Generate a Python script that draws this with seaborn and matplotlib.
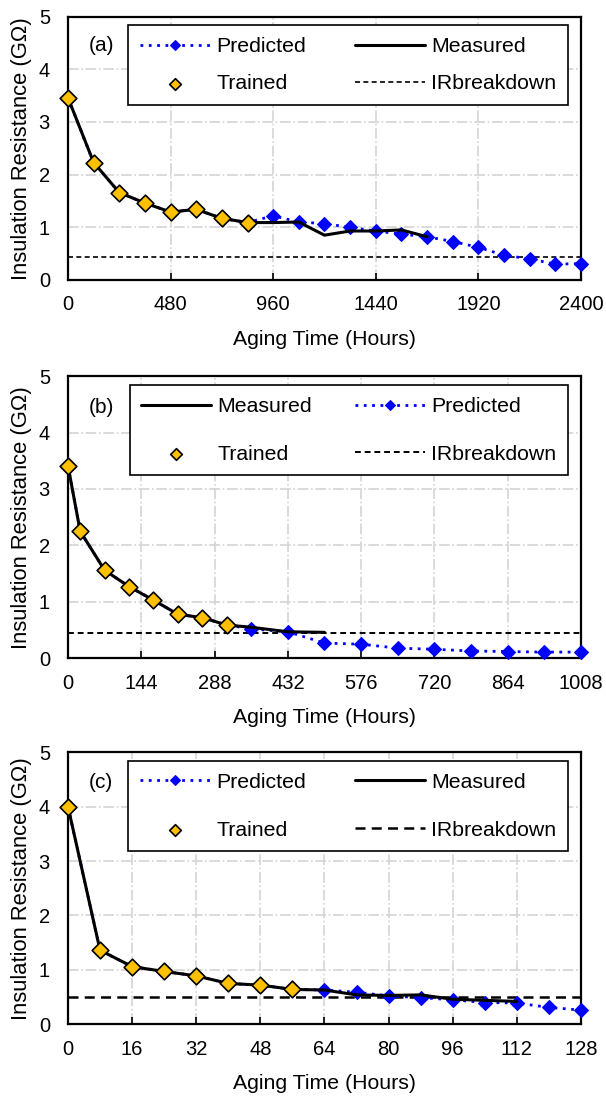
import matplotlib
matplotlib.use("Agg")
import matplotlib.pyplot as plt
import seaborn as sns

sns.set_style("white")
plt.rcParams['font.family'] = ['Liberation Sans', 'DejaVu Sans']
plt.rcParams['font.size'] = 14.5
plt.rcParams['text.color'] = 'black'
plt.rcParams['axes.labelcolor'] = 'black'
plt.rcParams['xtick.color'] = 'black'
plt.rcParams['ytick.color'] = 'black'

# ---- panel (a) ----
hours_a = [0, 120, 240, 360, 480, 600, 720, 840, 960, 1080, 1200, 1320,
           1440, 1560, 1680, 1800, 1920, 2040, 2160, 2280, 2400]
pred_a = [3.46, 2.23, 1.66, 1.46, 1.29, 1.34, 1.17, 1.09, 1.22, 1.10, 1.07,
          1.00, 0.93, 0.87, 0.82, 0.73, 0.62, 0.47, 0.40, 0.30, 0.31]
meas_hours_a = [0, 120, 240, 360, 480, 600, 720, 840, 960, 1080, 1200, 1320,
                1440, 1560, 1680]
meas_a = [3.46, 2.23, 1.66, 1.46, 1.29, 1.34, 1.17, 1.09, 1.09, 1.10, 0.85,
          0.93, 0.93, 0.95, 0.82]
train_hours_a = [0, 120, 240, 360, 480, 600, 720, 840]
train_a = [3.46, 2.23, 1.66, 1.46, 1.29, 1.34, 1.17, 1.09]
ir_a = 0.44
ticks_a = [0, 480, 960, 1440, 1920, 2400]

# ---- panel (b) ----
hours_b = [0, 24, 72, 120, 168, 216, 264, 312, 360, 432, 504, 576, 648,
           720, 792, 864, 936, 1008]
pred_b = [3.41, 2.25, 1.56, 1.27, 1.03, 0.78, 0.72, 0.59, 0.52, 0.47, 0.27,
          0.25, 0.18, 0.16, 0.13, 0.12, 0.11, 0.11]
meas_hours_b = [0, 24, 72, 120, 168, 216, 264, 312, 360, 432, 504]
meas_b = [3.41, 2.25, 1.56, 1.27, 1.03, 0.78, 0.72, 0.59, 0.55, 0.47, 0.46]
train_hours_b = [0, 24, 72, 120, 168, 216, 264, 312]
train_b = [3.41, 2.25, 1.56, 1.27, 1.03, 0.78, 0.72, 0.59]
ir_b = 0.44
ticks_b = [0, 144, 288, 432, 576, 720, 864, 1008]

# ---- panel (c) ----
hours_c = [0, 8, 16, 24, 32, 40, 48, 56, 64, 72, 80, 88, 96, 104, 112,
           120, 128]
pred_c = [4.00, 1.36, 1.06, 0.97, 0.89, 0.75, 0.72, 0.64, 0.63, 0.59, 0.52,
          0.49, 0.45, 0.40, 0.39, 0.31, 0.26]
meas_hours_c = [0, 8, 16, 24, 32, 40, 48, 56, 64, 72, 80, 88, 96, 104, 112]
meas_c = [4.00, 1.36, 1.06, 0.97, 0.89, 0.75, 0.72, 0.64, 0.63, 0.54, 0.53,
          0.54, 0.46, 0.44, 0.42]
train_hours_c = [0, 8, 16, 24, 32, 40, 48, 56]
train_c = [4.00, 1.36, 1.06, 0.97, 0.89, 0.75, 0.72, 0.64]
ir_c = 0.51
ticks_c = [0, 16, 32, 48, 64, 80, 96, 112, 128]

ORANGE = '#FFC000'
BLUE = '#0000FF'


def draw_panel(ax, tag, hours, pred, mh, meas, th, train, ir, ticks,
               order, lspace, colsp, ir_lw, ir_dash):
    sns.lineplot(x=hours, y=pred, ax=ax, color=BLUE, lw=2,
                 linestyle=(0, (1, 2)), marker='D', markersize=7,
                 markeredgecolor=BLUE, markerfacecolor=BLUE,
                 label='Predicted', clip_on=False, zorder=3)
    sns.lineplot(x=mh, y=meas, ax=ax, color='black', lw=2.2,
                 label='Measured', zorder=4)
    sns.scatterplot(x=th, y=train, ax=ax, marker='D', s=72, color=ORANGE,
                    edgecolor='black', linewidth=1.2, label='Trained',
                    clip_on=False, zorder=5)
    ax.axhline(ir, color='black', lw=ir_lw, linestyle=(0, ir_dash),
               label='IRbreakdown', zorder=2)

    ax.set_xlim(ticks[0], ticks[-1])
    ax.set_ylim(0, 5)
    ax.set_xticks(ticks)
    ax.set_yticks([0, 1, 2, 3, 4, 5])
    ax.grid(True, color='#d4d4d4', lw=1.2, linestyle='-.')
    for s in ax.spines.values():
        s.set_color('black')
        s.set_linewidth(1.6)
    ax.tick_params(axis='x', direction='in', length=5, width=1.2, pad=11,
                   labelsize=14.5, bottom=True)
    ax.tick_params(axis='y', direction='in', length=0, pad=13,
                   labelsize=14.5, left=True)
    ax.set_xlabel('Aging Time (Hours)', fontsize=15.3, labelpad=11)
    ax.set_ylabel('Insulation Resistance (G\u03a9)', fontsize=15.8,
                  labelpad=5)
    ax.text(0.04, 0.89, tag, transform=ax.transAxes, fontsize=15,
            va='center', ha='left')

    h, l = ax.get_legend_handles_labels()
    lookup = dict(zip(l, h))
    leg = ax.legend([lookup[k] for k in order], order, ncol=2,
                    loc='upper right', bbox_to_anchor=(0.975, 0.967),
                    borderaxespad=0, fontsize=15.3, frameon=True,
                    fancybox=False, edgecolor='black', framealpha=1,
                    handlelength=3.3, handletextpad=0.3, columnspacing=colsp,
                    labelspacing=lspace, borderpad=0.55, markerscale=0.7)
    leg.get_frame().set_linewidth(1.2)


fig = plt.figure(figsize=(6.06, 10.97), dpi=100)
ax_a = fig.add_axes([0.1122, 0.7448, 0.8465, 0.2400])
ax_b = fig.add_axes([0.1122, 0.3999, 0.8465, 0.2573])
ax_c = fig.add_axes([0.1122, 0.0663, 0.8465, 0.2480])

draw_panel(ax_a, '(a)', hours_a, pred_a, meas_hours_a, meas_a,
           train_hours_a, train_a, ir_a, ticks_a,
           ['Predicted', 'Trained', 'Measured', 'IRbreakdown'], 0.85, 2.3,
           1.2, (3, 2))
draw_panel(ax_b, '(b)', hours_b, pred_b, meas_hours_b, meas_b,
           train_hours_b, train_b, ir_b, ticks_b,
           ['Measured', 'Trained', 'Predicted', 'IRbreakdown'], 1.35, 2.0,
           1.4, (3, 2))
draw_panel(ax_c, '(c)', hours_c, pred_c, meas_hours_c, meas_c,
           train_hours_c, train_c, ir_c, ticks_c,
           ['Predicted', 'Trained', 'Measured', 'IRbreakdown'], 1.35, 2.3,
           1.8, (4, 2.5))

fig.savefig('out.png', dpi=100)
